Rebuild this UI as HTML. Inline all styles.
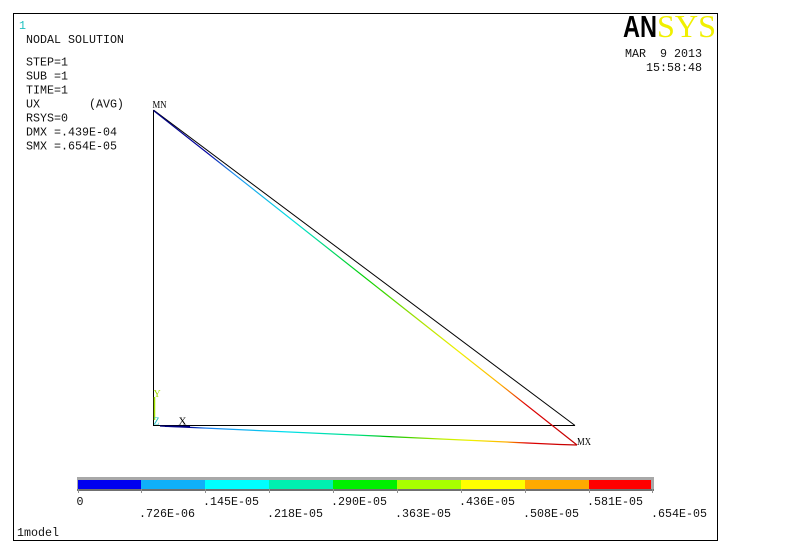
<!DOCTYPE html>
<html><head><meta charset="utf-8"><style>
html,body{margin:0;padding:0;background:#fff;}
svg{display:block;}
.m{font-family:"Liberation Mono",monospace;font-size:11.67px;fill:#111;}
.s{font-family:"Liberation Serif",serif;}
</style></head><body>
<svg width="801" height="556" viewBox="0 0 801 556" xmlns="http://www.w3.org/2000/svg">
<defs>
<linearGradient id="gd" gradientUnits="userSpaceOnUse" x1="153" y1="110" x2="577" y2="445">
<stop offset="0" stop-color="#000080"/>
<stop offset="0.13" stop-color="#0000a0"/>
<stop offset="0.19" stop-color="#2090f0"/>
<stop offset="0.33" stop-color="#00e0e0"/>
<stop offset="0.5" stop-color="#00d000"/>
<stop offset="0.62" stop-color="#a0e000"/>
<stop offset="0.72" stop-color="#f0f000"/>
<stop offset="0.82" stop-color="#ffb000"/>
<stop offset="0.88" stop-color="#e00000"/>
<stop offset="1" stop-color="#c00000"/>
</linearGradient>
<linearGradient id="gb" gradientUnits="userSpaceOnUse" x1="160" y1="426" x2="577" y2="445">
<stop offset="0" stop-color="#000080"/>
<stop offset="0.07" stop-color="#000090"/>
<stop offset="0.11" stop-color="#2080f0"/>
<stop offset="0.3" stop-color="#00e0f0"/>
<stop offset="0.48" stop-color="#00e080"/>
<stop offset="0.55" stop-color="#00c000"/>
<stop offset="0.68" stop-color="#c0f000"/>
<stop offset="0.75" stop-color="#f0f000"/>
<stop offset="0.83" stop-color="#ffb000"/>
<stop offset="0.88" stop-color="#e00000"/>
<stop offset="1" stop-color="#c00000"/>
</linearGradient>
</defs>
<rect x="0" y="0" width="801" height="556" fill="#fff"/>
<rect x="13.5" y="13.5" width="704" height="527" fill="none" stroke="#000" stroke-width="1"/>

<!-- top-left text -->
<text x="19" y="29" class="m" style="fill:#20c0c0">1</text>
<text x="26" y="43" class="m">NODAL SOLUTION</text>
<text x="26" y="65.5" class="m">STEP=1</text>
<text x="26" y="79.5" class="m">SUB =1</text>
<text x="26" y="93.5" class="m">TIME=1</text>
<text x="26" y="107.5" class="m" xml:space="preserve">UX       (AVG)</text>
<text x="26" y="121.5" class="m">RSYS=0</text>
<text x="26" y="135.5" class="m">DMX =.439E-04</text>
<text x="26" y="149.5" class="m">SMX =.654E-05</text>

<!-- logo -->
<text x="623" y="37" font-family="Liberation Sans" font-weight="bold" font-size="31" textLength="34" lengthAdjust="spacingAndGlyphs" fill="#000">AN</text>
<text x="657" y="37" class="s" font-size="32" textLength="59" lengthAdjust="spacingAndGlyphs" fill="#f0f000">SYS</text>
<text x="625" y="57" class="m" xml:space="preserve">MAR  9 2013</text>
<text x="646" y="71" class="m">15:58:48</text>

<!-- undeformed -->
<line x1="153.5" y1="110" x2="153.5" y2="425.5" stroke="#000" stroke-width="1"/>
<line x1="153" y1="425.5" x2="575" y2="425.5" stroke="#000" stroke-width="1"/>
<line x1="153.5" y1="110" x2="575" y2="425.5" stroke="#000" stroke-width="1"/>

<!-- deformed -->
<line x1="153.5" y1="110.5" x2="577" y2="445" stroke="url(#gd)" stroke-width="1.2"/>
<polyline points="160,426 560,444.5 577,445" fill="none" stroke="url(#gb)" stroke-width="1.2"/>

<!-- triad -->
<line x1="154.5" y1="397" x2="154.5" y2="420" stroke="#a0e000" stroke-width="1.5"/>
<line x1="165" y1="426.2" x2="190" y2="426.6" stroke="#000080" stroke-width="1.5"/>
<text x="153.5" y="397" class="s" font-size="10" fill="#a0d800">Y</text>
<text x="153.5" y="424.5" class="s" font-size="10" fill="#20c0c0">Z</text>
<text x="178.5" y="424.5" class="s" font-size="11" fill="#000">X</text>

<text x="152.5" y="108" class="s" font-size="10" textLength="14" lengthAdjust="spacingAndGlyphs" fill="#000">MN</text>
<text x="577" y="445" class="s" font-size="11" textLength="14" lengthAdjust="spacingAndGlyphs" fill="#000">MX</text>

<!-- colorbar -->
<rect x="77" y="477" width="577" height="14" fill="#a8a8a8"/>
<rect x="78" y="480" width="63" height="9" fill="#0000f0"/>
<rect x="141" y="480" width="64" height="9" fill="#10b0f8"/>
<rect x="205" y="480" width="64" height="9" fill="#00ffff"/>
<rect x="269" y="480" width="64" height="9" fill="#00f0b0"/>
<rect x="333" y="480" width="64" height="9" fill="#00f000"/>
<rect x="397" y="480" width="64" height="9" fill="#a8ff00"/>
<rect x="461" y="480" width="64" height="9" fill="#ffff00"/>
<rect x="525" y="480" width="64" height="9" fill="#ffaa00"/>
<rect x="589" y="480" width="62" height="9" fill="#ff0000"/>
<rect x="77" y="489" width="577" height="2" fill="#707070"/>
<g stroke="#909090" stroke-width="1">
<line x1="78.5" y1="489" x2="78.5" y2="493"/>
<line x1="141.5" y1="489" x2="141.5" y2="493"/>
<line x1="205.5" y1="489" x2="205.5" y2="493"/>
<line x1="269.5" y1="489" x2="269.5" y2="493"/>
<line x1="333.5" y1="489" x2="333.5" y2="493"/>
<line x1="397.5" y1="489" x2="397.5" y2="493"/>
<line x1="461.5" y1="489" x2="461.5" y2="493"/>
<line x1="525.5" y1="489" x2="525.5" y2="493"/>
<line x1="589.5" y1="489" x2="589.5" y2="493"/>
<line x1="652.5" y1="489" x2="652.5" y2="493"/>
</g>
<text x="76.5" y="505" class="m">0</text>
<text x="203" y="505" class="m">.145E-05</text>
<text x="331" y="505" class="m">.290E-05</text>
<text x="459" y="505" class="m">.436E-05</text>
<text x="587" y="505" class="m">.581E-05</text>
<text x="139" y="517" class="m">.726E-06</text>
<text x="267" y="517" class="m">.218E-05</text>
<text x="395" y="517" class="m">.363E-05</text>
<text x="523" y="517" class="m">.508E-05</text>
<text x="651" y="517" class="m">.654E-05</text>

<text x="17" y="536" class="m">1model</text>
</svg>
</body></html>
